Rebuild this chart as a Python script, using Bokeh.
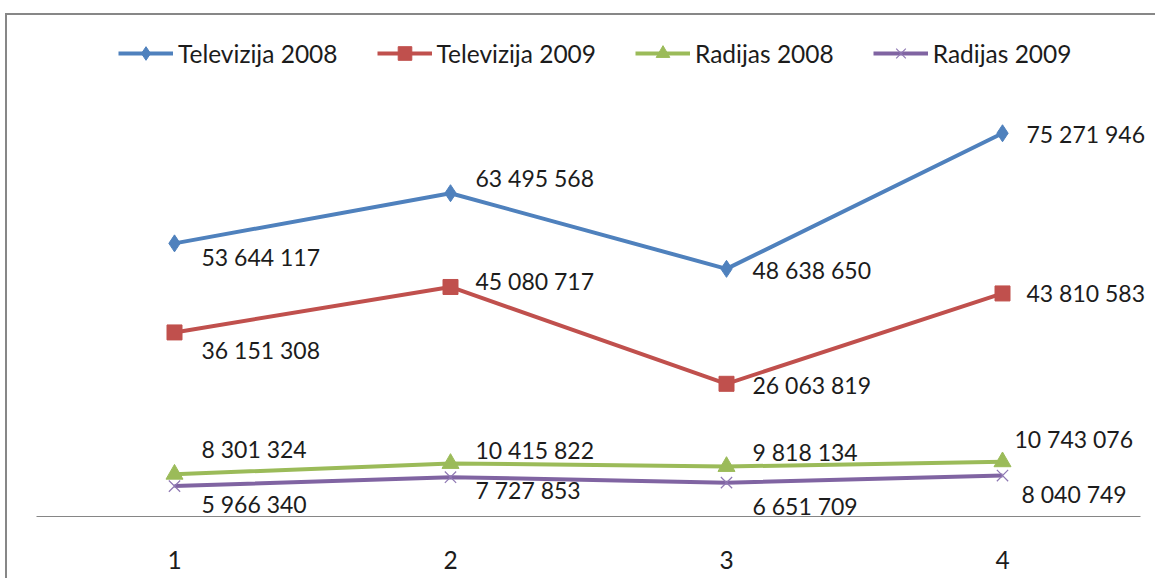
from bokeh.plotting import figure
from bokeh.models import ColumnDataSource, LabelSet, Legend, LegendItem, Range1d, FixedTicker
from bokeh.core.properties import value
from bokeh.embed import file_html
from bokeh.resources import INLINE

# ---- data ----
categories = [1, 2, 3, 4]
series_names = ["Televizija 2008", "Televizija 2009", "Radijas 2008", "Radijas 2009"]
tel_2008 = [53644117, 63495568, 48638650, 75271946]
tel_2009 = [36151308, 45080717, 26063819, 43810583]
rad_2008 = [8301324, 10415822, 9818134, 10743076]
rad_2009 = [5966340, 7727853, 6651709, 8040749]

# ---- styles ----
colors = ["#4F81BD", "#C0504D", "#9BBB59", "#8064A2"]
markers = ["diamond", "square", "triangle", "x"]
marker_sizes = [17, 15, 17, 16]
# label offsets in pixels (right, down) from each point
label_dx = [[27, 25, 26, 24], [27, 25, 26, 24], [27, 25, 26, 12], [27, 25, 26, 19]]
label_dy = [[14, -15, 1, 1], [18, -6, 1, 0], [-25, -13, -15, -23], [18, 13, 23, 18]]

FONT = "Lato"
FS = "23px"
FS_BIG = "24.5px"
TXT = "#1c1c1c"

W, H = 1150, 565
p = figure(width=W, height=H, output_backend="svg", toolbar_location=None,
           y_axis_location=None,
           x_range=Range1d(0.5 - 29 / 276, 4.5 + 17 / 276),
           y_range=Range1d(0, 98.4e6))
p.min_border_left = 0
p.min_border_right = 0
p.min_border_top = 0
p.min_border_bottom = 64
p.outline_line_color = None
p.xgrid.visible = False
p.ygrid.visible = False
p.background_fill_color = "white"
p.border_fill_color = "white"
p.styles = {"border-left": "2px solid #878787", "border-top": "2px solid #878787",
            "position": "relative", "left": "5px", "top": "13px"}

ax = p.xaxis[0]
ax.ticker = FixedTicker(ticks=categories)
ax.bounds = (min(categories) - 0.5, max(categories) + 0.5)
ax.axis_line_color = "#868686"
ax.axis_line_width = 1
ax.major_tick_line_color = None
ax.minor_tick_line_color = None
ax.major_label_standoff = 28
ax.major_label_text_font = FONT
ax.major_label_text_font_size = FS_BIG
ax.major_label_text_color = TXT

all_series = [tel_2008, tel_2009, rad_2008, rad_2009]
items = []
for i, (name, vals) in enumerate(zip(series_names, all_series)):
    src = ColumnDataSource(dict(
        x=categories, y=vals,
        lbl=[f"{v:,}".replace(",", " ") for v in vals],
        dx=label_dx[i], dy=[-d for d in label_dy[i]],
    ))
    r_line = p.line("x", "y", source=src, color=colors[i], line_width=4, line_join="round")
    if markers[i] == "x":
        r_mark = p.scatter("x", "y", source=src, marker="x", size=marker_sizes[i],
                           line_color="#8f78b3", line_width=1.2)
    else:
        r_mark = p.scatter("x", "y", source=src, marker=markers[i], size=marker_sizes[i],
                           fill_color=colors[i], line_color=colors[i])
    labels = LabelSet(x="x", y="y", text="lbl", source=src, x_offset="dx", y_offset="dy",
                      text_font=value(FONT), text_font_size=FS, text_color=TXT,
                      text_align="left", text_baseline="middle")
    p.add_layout(labels)
    items.append(LegendItem(label=name, renderers=[r_line, r_mark]))

legend = Legend(items=items, orientation="horizontal", location=(111, 446),
                glyph_width=55, glyph_height=34, label_standoff=5, spacing=39,
                padding=0, margin=0, border_line_color=None, background_fill_alpha=0,
                label_text_font=FONT, label_text_font_size=FS_BIG, label_text_color=TXT)
p.add_layout(legend)

open("out.html", "w").write(file_html(p, INLINE))
